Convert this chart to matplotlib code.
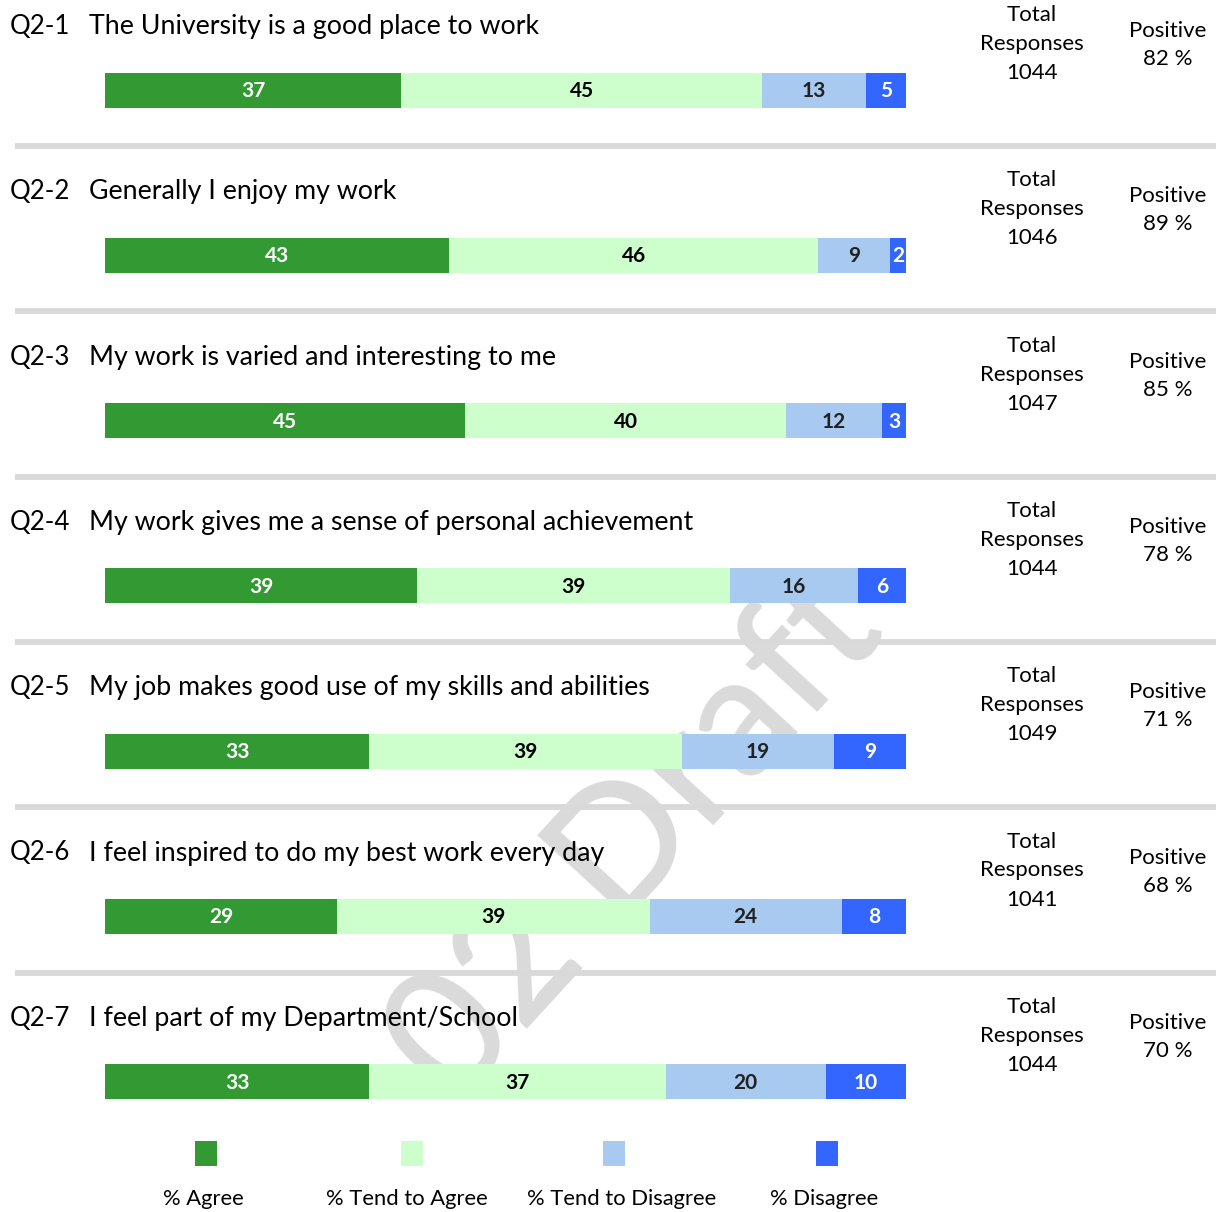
import matplotlib
matplotlib.use("Agg")
import matplotlib.pyplot as plt
from matplotlib.patches import Rectangle
import numpy as np

plt.rcParams['font.family'] = ['Lato', 'DejaVu Sans']

codes = ["Q2-1", "Q2-2", "Q2-3", "Q2-4", "Q2-5", "Q2-6", "Q2-7"]
questions = [
    "The University is a good place to work",
    "Generally I enjoy my work",
    "My work is varied and interesting to me",
    "My work gives me a sense of personal achievement",
    "My job makes good use of my skills and abilities",
    "I feel inspired to do my best work every day",
    "I feel part of my Department/School",
]
agree = [37, 43, 45, 39, 33, 29, 33]
tend_agree = [45, 46, 40, 39, 39, 39, 37]
tend_disagree = [13, 9, 12, 16, 19, 24, 20]
disagree = [5, 2, 3, 6, 9, 8, 10]
total_responses = [1044, 1046, 1047, 1044, 1049, 1041, 1044]
positive = [82, 89, 85, 78, 71, 68, 70]

categories = ["% Agree", "% Tend to Agree", "% Tend to Disagree", "% Disagree"]
colors = ["#339933", "#ccffcc", "#a9caf0", "#3366ff"]
label_colors = ["white", "black", "#222222", "white"]

W, H = 1216, 1212
fig = plt.figure(figsize=(W / 100, H / 100), dpi=100, facecolor="white")

# overlay axes in pixel coordinates
ov = fig.add_axes([0, 0, 1, 1], zorder=1)
ov.set_xlim(0, W)
ov.set_ylim(H, 0)
ov.axis("off")
ov.patch.set_visible(False)

row_h = 165.3
bar_c0 = 90.0
bar_px_h = 35.0

# bar axes
bx = fig.add_axes([105 / W, 0, 801 / W, 1], zorder=2)
bx.set_xlim(0, 100)
bx.set_ylim((H - bar_c0) / row_h, -bar_c0 / row_h)
bx.axis("off")
bx.patch.set_visible(False)

# watermark
ov.text(636, 838, "02 Draft", fontsize=123, color="#dadada", rotation=47.5,
        rotation_mode="anchor", ha="center", va="center", zorder=0,
        fontweight="medium")

series = [agree, tend_agree, tend_disagree, disagree]
n = len(codes)
ypos = np.arange(n)
left = np.zeros(n)
for s, vals in enumerate(series):
    vals = np.array(vals, dtype=float)
    bx.barh(ypos, vals, left=left, height=bar_px_h / row_h, color=colors[s],
            edgecolor="none", zorder=2)
    for i in range(n):
        bx.text(left[i] + vals[i] / 2, ypos[i] + 0.006, f"{int(vals[i])}", ha="center",
                va="center", fontsize=15, fontweight="bold",
                color=label_colors[s], zorder=3)
    left += vals

for i in range(n):
    off = i * row_h
    ov.text(10, 26.5 + off, codes[i], fontsize=18.6, ha="left", va="center", zorder=3)
    ov.text(89, 26.5 + off, questions[i], fontsize=19.3, ha="left", va="center", zorder=3)
    ov.text(1032, 15 + off, "Total", fontsize=16, ha="center", va="center", zorder=3)
    ov.text(1032, 44 + off, "Responses", fontsize=16, ha="center", va="center", zorder=3)
    ov.text(1032, 73 + off, f"{total_responses[i]}", fontsize=16, ha="center", va="center", zorder=3)
    ov.text(1168, 31 + off, "Positive", fontsize=16, ha="center", va="center", zorder=3)
    ov.text(1168, 59 + off, f"{positive[i]} %", fontsize=16, ha="center", va="center", zorder=3)
    if i < n - 1:
        ov.plot([15, W], [146 + off, 146 + off], color="#d9d9d9", lw=4.2,
                solid_capstyle="butt", zorder=1)

# legend
sq_x = [206, 412, 614, 827]
lab_x = [203, 407, 622, 824]
for k in range(4):
    ov.add_patch(Rectangle((sq_x[k] - 11, 1141), 22, 25, facecolor=colors[k],
                           edgecolor="none", zorder=3))
    ov.text(lab_x[k], 1199, categories[k], fontsize=15.8, ha="center", va="center", zorder=3)

fig.savefig("out.png", dpi=100, facecolor="white")
